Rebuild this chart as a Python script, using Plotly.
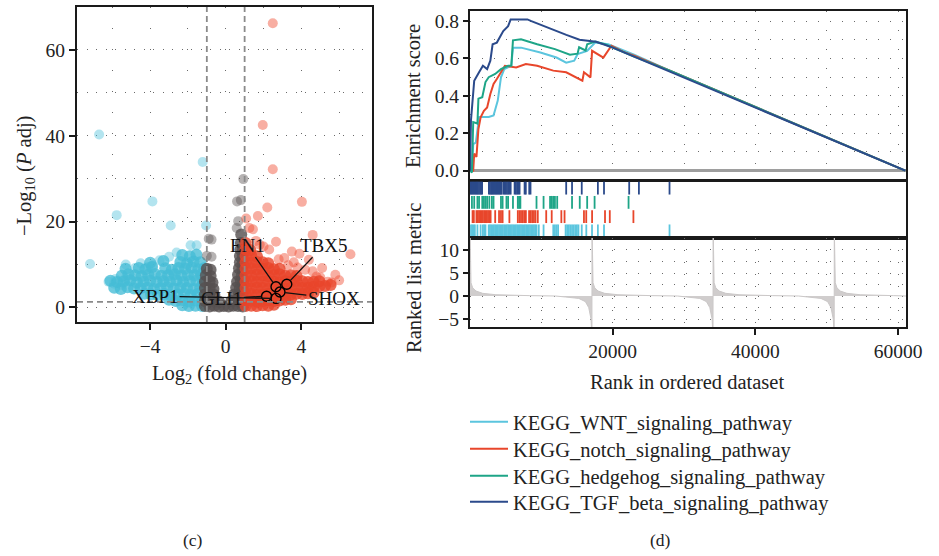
import plotly.graph_objects as go

# ---------------- Volcano data (log2FC, -log10 Padj) ----------------
down_cloud_x = [-2.3, -1.95, -1.6, -1.25,
                -3.0, -2.65, -2.3, -1.95, -1.6, -1.25,
                -4.3, -3.95, -3.6, -3.25, -2.9, -2.55, -2.2, -1.85, -1.5, -1.15,
                -5.9, -5.55, -5.2, -4.85, -4.5, -4.15, -3.8, -3.45, -3.1, -2.75, -2.4, -2.05, -1.7, -1.35,
                -6.1, -5.75, -5.4, -5.05, -4.7, -4.35, -4.0, -3.65, -3.3, -2.95, -2.6, -2.25, -1.9, -1.55, -1.2,
                -5.5, -5.15, -4.8, -4.45, -4.1, -3.75, -3.4, -3.05, -2.7, -2.35, -2.0, -1.65, -1.3,
                -5.3, -4.6, -4.25, -3.9, -3.2, -2.85, -2.5, -2.15, -1.8, -1.45, -1.15,
                -4.0, -3.3, -2.4, -2.05, -1.7, -1.35,
                -2.3, -1.9, -1.55]
down_cloud_y = [0.5, 0.3, 0.4, 0.3,
                1.8, 1.5, 1.7, 1.4, 1.6, 1.5,
                3.2, 3.0, 2.9, 3.1, 2.8, 3.0, 3.2, 2.9, 3.1, 3.0,
                4.6, 4.3, 4.7, 4.4, 4.5, 4.6, 4.3, 4.5, 4.7, 4.4, 4.6, 4.5, 4.3, 4.6,
                6.2, 5.9, 6.1, 6.3, 5.8, 6.0, 6.2, 5.9, 6.1, 6.0, 6.3, 5.9, 6.1, 6.2, 5.9,
                7.4, 7.7, 7.5, 7.3, 7.6, 7.8, 7.4, 7.5, 7.7, 7.4, 7.6, 7.5, 7.7,
                9.0, 9.2, 8.9, 9.4, 9.1, 8.8, 9.2, 9.0, 9.3, 8.9, 9.1,
                10.4, 10.8, 10.6, 10.3, 10.7, 10.5,
                12.2, 11.9, 12.3]
down_out_x = [-6.70, -1.22, -3.88, -5.77, -2.91, -1.04, -7.18, -1.86, -1.54, -3.00, -5.29, -5.83,
              -5.30, -4.10, -3.86, -5.50, -4.50, -2.60, -4.80, -3.50, -6.20, -5.90]
down_out_y = [40.3, 33.9, 24.7, 21.5, 19.1, 19.1, 10.1, 14.5, 14.5, 11.8, 10.0, 6.6,
              6.4, 9.4, 9.8, 5.2, 10.3, 12.8, 9.2, 11.0, 6.0, 5.5]

ns_cloud_x = [-1.1, -0.85, -0.6, -0.35, -0.1, 0.15, 0.4, 0.65, 0.9,
              -1.1, -0.85, -0.6, -0.35, 0.3, 0.55, 0.8,
              -1.1, -0.85, -0.6, 0.45, 0.7, 0.9,
              -1.1, -0.85, -0.65, 0.55, 0.75, 0.9,
              -1.1, -0.85, -0.7, 0.6, 0.8, 0.92,
              -1.05, -0.8, 0.65, 0.85,
              -1.0, -0.8, 0.7, 0.88,
              0.75, 0.9, 0.75, 0.9, 0.78, 0.9, 0.8, 0.82]
ns_cloud_y = [0.3, 0.2, 0.4, 0.2, 0.3, 0.2, 0.4, 0.3, 0.2,
              1.5, 1.6, 1.4, 1.3, 1.5, 1.6, 1.4,
              3.0, 3.1, 2.9, 3.0, 3.2, 2.9,
              4.5, 4.4, 4.3, 4.6, 4.5, 4.4,
              6.0, 6.1, 5.8, 6.0, 6.2, 5.9,
              7.5, 7.3, 7.6, 7.4,
              9.0, 8.8, 9.1, 9.0,
              10.5, 10.4, 12.0, 12.1, 13.5, 13.4, 15.0, 17.0]
ns_out_x = [0.93, 0.60, 0.80, 0.66, 0.58, -0.75, -0.90, -0.75, -1.00]
ns_out_y = [29.9, 24.7, 25.0, 20.1, 18.5, 15.8, 16.0, 11.8, 12.0]

up_cloud_x = [1.05, 1.35, 1.65, 1.95, 2.25, 2.55,
              1.05, 1.35, 1.65, 1.95, 2.25, 2.55, 2.85, 3.15, 3.45,
              1.05, 1.35, 1.65, 1.95, 2.25, 2.55, 2.85, 3.15, 3.45, 3.75, 4.05, 4.35, 4.65,
              1.05, 1.35, 1.65, 1.95, 2.25, 2.55, 2.85, 3.15, 3.45, 3.75, 4.05, 4.35, 4.65, 4.95, 5.25, 5.55,
              1.05, 1.35, 1.65, 1.95, 2.25, 2.55, 2.85, 3.15, 3.45, 3.75, 4.05, 4.35, 4.65, 4.95,
              1.05, 1.35, 1.65, 1.95, 2.25, 2.55, 2.85, 3.15, 3.45, 3.75,
              1.05, 1.35, 1.65, 1.95, 2.25, 2.55, 2.85,
              1.05, 1.35, 1.65, 1.95, 2.25,
              1.05, 1.35, 1.65,
              1.05, 1.30, 1.05]
up_cloud_y = [0.3, 0.4, 0.3, 0.5, 0.4, 0.6,
              1.5, 1.6, 1.4, 1.5, 1.7, 1.5, 1.6, 1.8, 1.9,
              3.0, 3.1, 2.9, 3.0, 3.2, 3.0, 2.9, 3.1, 3.0, 3.2, 3.1, 3.3, 3.4,
              4.5, 4.4, 4.6, 4.5, 4.3, 4.5, 4.6, 4.4, 4.5, 4.7, 4.5, 4.6, 4.8, 4.9, 5.0, 5.2,
              6.0, 6.1, 5.9, 6.0, 6.2, 6.0, 5.8, 6.1, 6.0, 6.2, 6.1, 5.9, 6.0, 6.1,
              7.5, 7.4, 7.6, 7.5, 7.3, 7.5, 7.7, 7.4, 7.5, 7.3,
              9.0, 9.1, 8.9, 9.0, 9.2, 8.9, 9.0,
              10.5, 10.4, 10.6, 10.5, 10.3,
              12.0, 12.1, 11.9,
              13.5, 13.4, 15.0]
up_out_x = [2.49, 1.96, 2.49, 4.03, 2.20, 1.70, 1.08, 1.44, 2.66, 4.60, 6.60, 4.40, 4.60, 5.80, 3.90,
            1.80, 1.25, 3.50, 3.10, 2.30, 5.10, 6.00, 3.60, 2.00, 5.40, 5.00,
            3.30, 4.20, 5.60, 4.80, 3.80, 2.80, 1.60]
up_out_y = [66.2, 42.5, 32.2, 24.6, 23.3, 21.3, 20.7, 18.2, 15.3, 16.9, 12.4, 11.1, 8.4, 7.6, 12.5,
            14.6, 18.5, 13.0, 11.5, 13.5, 9.2, 6.3, 10.5, 14.2, 6.0, 7.0,
            9.8, 8.8, 5.8, 7.2, 9.3, 11.2, 15.5]

genes = ["EN1", "TBX5", "SHOX", "GLI1", "XBP1"]
gene_x = [2.66, 3.23, 2.87, 2.16, 2.66]
gene_y = [4.8, 5.4, 3.6, 2.6, 2.1]
label_x = [1.13, 5.20, 5.72, -0.21, -3.74]
label_y = [14.5, 14.5, 2.1, 2.1, 2.6]
fc_cut = [-1, 1]
p_cut = 1.3

# ---------------- GSEA data ----------------
pathways = ["KEGG_WNT_signaling_pathway", "KEGG_notch_signaling_pathway",
            "KEGG_hedgehog_signaling_pathway", "KEGG_TGF_beta_signaling_pathway"]
colors = ["#5bc5de", "#e8462b", "#1ea587", "#2b4a8b"]

wnt_rank = [0, 270, 450, 815, 1270, 2620, 3300, 3530, 3890, 4340, 4800, 5790, 6020, 7150, 9860, 12120,
            13480, 14610, 15070, 16420, 17550, 19360, 21000, 23000, 28000, 61000]
wnt_es = [0, 0.0, 0.142, 0.15, 0.287, 0.287, 0.295, 0.331, 0.375, 0.499, 0.543, 0.561, 0.658, 0.658, 0.632,
          0.605, 0.578, 0.588, 0.623, 0.641, 0.685, 0.676, 0.650, 0.620, 0.535, 0.0]
notch_rank = [0, 450, 590, 905, 1180, 1490, 1950, 2400, 2850, 3300, 3760, 4340, 4890, 6470, 7830, 9410,
              11670, 13480, 15750, 15970, 16880, 17110, 18690, 19820, 21500, 23000, 28000, 61000]
notch_es = [0, 0.0, 0.092, 0.074, 0.223, 0.285, 0.32, 0.338, 0.41, 0.464, 0.49, 0.526, 0.561, 0.552, 0.57,
            0.561, 0.535, 0.526, 0.481, 0.526, 0.499, 0.641, 0.605, 0.668, 0.635, 0.615, 0.535, 0.0]
hh_rank = [0, 270, 450, 1040, 1180, 1720, 2170, 2620, 3530, 4340, 5340, 5790, 6020, 7150, 9410, 11900,
           14000, 15070, 15290, 16200, 16420, 17550, 18900, 20000, 23000, 28000, 61000]
hh_es = [0, -0.01, 0.26, 0.252, 0.385, 0.393, 0.474, 0.5, 0.517, 0.543, 0.561, 0.561, 0.697, 0.703, 0.676,
         0.65, 0.62, 0.626, 0.66, 0.643, 0.676, 0.69, 0.676, 0.658, 0.61, 0.535, 0.0]
tgf_rank = [0, 135, 590, 905, 1270, 1810, 2400, 2850, 3170, 3760, 4210, 4660, 5340, 5700, 8050, 8600,
            13500, 15350, 17670, 20000, 24000, 28000, 61000]
tgf_es = [0, 0.269, 0.481, 0.499, 0.526, 0.561, 0.543, 0.588, 0.676, 0.685, 0.72, 0.747, 0.773, 0.809,
          0.809, 0.80, 0.726, 0.70, 0.689, 0.658, 0.594, 0.53, 0.0]

tgf_hits = [30, 180, 330, 480, 640, 800, 950, 1100, 1260, 1420, 1580, 1700,
            2650, 2800, 2960, 3100, 3250, 3400, 3560, 3700, 3850, 4000, 4150, 4300, 4420,
            4680, 4850, 5000, 5180, 5350, 5520, 5700, 6250, 6420, 6600, 6780, 6950,
            7650, 7820, 8300, 8480, 13480, 14300, 15660, 17920, 18780, 22310, 23670, 27960]
hh_hits = [270, 590, 1040, 1270, 1720, 1950, 2170, 2400, 2710, 3070, 3300, 4340, 4570, 5110, 5340,
           6020, 6700, 6880, 7060, 9320, 10310, 11220, 11450, 11670, 11900, 12220, 14300, 15380,
           16420, 17460, 22220]
notch_hits = [360, 540, 900, 1090, 1270, 1450, 1630, 1810, 2000, 2170, 2350, 2530, 2710, 2890, 3530,
              4070, 4340, 4570, 5520, 6700, 6930, 7150, 7380, 7600, 7830, 8280, 8510, 8730, 8960,
              9180, 9500, 10680, 11450, 12800, 13250, 15970, 16290, 17110, 18920, 19590, 22900]
wnt_hits = [140, 320, 500, 680, 1040, 1490, 1810, 2000, 2170, 2620, 2800, 2980, 3170, 3350, 3530, 3710,
            3890, 4070, 4250, 4430, 4610, 4800, 4980, 5160, 5340, 5520, 5700, 5880, 6060, 6240, 6420,
            6600, 6790, 6970, 7150, 7330, 7510, 7690, 7870, 8050, 8230, 8410, 8600, 8780, 8960, 9140,
            9320, 9640, 10310, 11670, 11900, 12130, 12350, 13400, 13620, 13850, 14070, 14300, 14520,
            14750, 14980, 15200, 15660, 16300, 17100, 17920, 18780, 27960]

# ranked list metric: repeating sorted blocks
segment_starts = [0, 17100, 34070, 51050]
rank_end = 61100
head_offsets = [0, 60, 140, 370, 840, 1770, 3630, 8300, 12000]
head_values = [15, 6, 2.9, 1.8, 1.1, 0.6, 0.3, 0.1, 0.02]
tail_before_end = [3700, 1860, 930, 460, 140, 15]
tail_values = [-0.2, -0.5, -1.2, -2.5, -5, -9]

FONT = "Liberation Serif"
fig = go.Figure()

# ---------- volcano ----------
def pts(x, y, col, op, size=10):
    fig.add_trace(go.Scatter(x=x, y=y, mode="markers", xaxis="x", yaxis="y", showlegend=False,
                             hoverinfo="skip",
                             marker=dict(size=size, color=col, opacity=op, line=dict(width=0))))

pts(down_out_x, down_out_y, "#4bbfd9", 0.42)
pts(down_cloud_x, down_cloud_y, "#45bcd6", 0.78, 12)
pts(ns_out_x, ns_out_y, "#5d5757", 0.45)
pts(ns_cloud_x, ns_cloud_y, "#575151", 0.82, 12)
pts(up_out_x, up_out_y, "#ef4b31", 0.45)
pts(up_cloud_x, up_cloud_y, "#e8452b", 0.8, 12)
fig.add_trace(go.Scatter(x=gene_x, y=gene_y, mode="markers", xaxis="x", yaxis="y", showlegend=False,
                         marker=dict(size=10, symbol="circle-open", color="black", line=dict(width=1.4))))

# ---------- GSEA running ES ----------
legend_ids = ["legend", "legend2", "legend3", "legend4"]
es_data = [(wnt_rank, wnt_es), (notch_rank, notch_es), (hh_rank, hh_es), (tgf_rank, tgf_es)]
for name, col, lid, (rx, ry) in zip(pathways, colors, legend_ids, es_data):
    fig.add_trace(go.Scatter(x=rx, y=ry, mode="lines", name=name, xaxis="x2", yaxis="y2",
                             line=dict(color=col, width=2), legend=lid))

# ---------- barcode ----------
hit_sets = [(wnt_hits, 0), (notch_hits, 1), (hh_hits, 2), (tgf_hits, 3)]
for (hits, row), col in zip(hit_sets, colors):
    bx, by = [], []
    for h in hits:
        bx += [h, h, None]
        by += [row + 0.05, row + 0.95, None]
    fig.add_trace(go.Scatter(x=bx, y=by, mode="lines", xaxis="x3", yaxis="y3", showlegend=False,
                             line=dict(color=col, width=1.8)))

# ---------- ranked list metric ----------
mx, my = [], []
for i, s in enumerate(segment_starts):
    e = segment_starts[i + 1] if i + 1 < len(segment_starts) else rank_end
    for o, v in zip(head_offsets, head_values):
        if s + o < e:
            mx.append(s + o); my.append(v)
    if i + 1 < len(segment_starts):
        for b, v in zip(tail_before_end, tail_values):
            mx.append(e - b); my.append(v)
    else:
        mx.append(e); my.append(0.02)
fig.add_trace(go.Scatter(x=mx, y=my, mode="lines", fill="tozeroy", xaxis="x4", yaxis="y4",
                         showlegend=False, line=dict(color="#cbc8c8", width=1), fillcolor="#d0cdcd"))

# ---------- layout ----------
W, H = 939, 556
def px_x(a, b):
    return [a / W, b / W]
def px_y(top, bottom):
    return [1 - bottom / H, 1 - top / H]

GRID = "#6a6a6a"
tickfont = dict(family=FONT, size=19.5, color="#222")
axline = dict(showline=True, linecolor="#1a1a1a", linewidth=2, mirror=True, zeroline=False)

gx = px_x(470, 906)
rng = [0, 61100]

legend_rows = [402, 429, 456, 482]
legends = {}
for lid, top in zip(legend_ids, legend_rows):
    legends[lid] = dict(x=465 / W, y=1 - top / H, xanchor="left", yanchor="top", bgcolor="rgba(0,0,0,0)",
                        font=dict(family=FONT, size=20.5, color="#222"), itemwidth=38)

fig.update_layout(
    width=W, height=H, margin=dict(l=0, r=0, t=0, b=0, autoexpand=False), autosize=False,
    paper_bgcolor="white", plot_bgcolor="white",
    font=dict(family=FONT, size=19, color="#222"),
    xaxis=dict(domain=px_x(77, 372), range=[-7.87, 7.74], tick0=0, dtick=4, ticks="outside", ticklen=6,
               tickwidth=1.5, tickcolor="#1a1a1a", tickfont=tickfont, showgrid=True, gridcolor=GRID,
               gridwidth=1, griddash="1px,20px",
               minor=dict(dtick=2, tick0=0, showgrid=True, gridcolor=GRID, griddash="1px,20px", gridwidth=1),
               **axline),
    yaxis=dict(domain=px_y(7, 322), range=[-3.4, 70], tick0=0, dtick=20, ticks="outside", ticklen=6,
               tickwidth=1.5, tickcolor="#1a1a1a", tickfont=tickfont, showgrid=True, gridcolor=GRID,
               gridwidth=1, griddash="1px,8.5px",
               minor=dict(dtick=10, tick0=0, showgrid=True, gridcolor=GRID, griddash="1px,8.5px", gridwidth=1),
               **axline),
    xaxis2=dict(domain=gx, range=rng, anchor="y2", showticklabels=False, ticks="", dtick=10000, tick0=0,
                showgrid=True, gridcolor=GRID, gridwidth=1, griddash="1px,18px", **axline),
    yaxis2=dict(domain=px_y(11, 180), range=[-0.05, 0.854], anchor="x2", tick0=0, dtick=0.2,
                tickformat=".1f", ticks="outside", ticklen=5, tickwidth=1.5, tickcolor="#1a1a1a",
                tickfont=tickfont, showgrid=True, gridcolor=GRID, gridwidth=1, griddash="1px,11px",
                minor=dict(dtick=0.1, tick0=0, showgrid=True, gridcolor=GRID, griddash="1px,11px", gridwidth=1),
                showline=True, linecolor="#1a1a1a", linewidth=2, mirror=True,
                zeroline=True, zerolinecolor="#9e9e9e", zerolinewidth=2.5),
    xaxis3=dict(domain=gx, range=rng, anchor="y3", showticklabels=False, ticks="", showgrid=False, **axline),
    yaxis3=dict(domain=px_y(181, 238), range=[0, 4], anchor="x3", showticklabels=False, ticks="",
                showgrid=False, **axline),
    xaxis4=dict(domain=gx, range=rng, anchor="y4", tickmode="array", tickvals=[20000, 40000, 60000],
                tickformat="d", ticks="outside", ticklen=6, tickwidth=1.5, tickcolor="#1a1a1a",
                tickfont=tickfont, showgrid=True, gridcolor=GRID, gridwidth=1, griddash="1px,11px",
                minor=dict(tickmode="linear", dtick=10000, tick0=0, showgrid=True, gridcolor=GRID,
                           griddash="1px,11px", gridwidth=1),
                **axline),
    yaxis4=dict(domain=px_y(238, 327), range=[-6.7, 12.6], anchor="x4", tickmode="array",
                tickvals=[-5, 0, 5, 10], ticks="outside", ticklen=5, tickwidth=1.5, tickcolor="#1a1a1a",
                tickfont=tickfont, showgrid=True, gridcolor=GRID, gridwidth=1, griddash="1px,11px",
                minor=dict(tickmode="linear", dtick=2.5, tick0=0, showgrid=True, gridcolor=GRID,
                           griddash="1px,11px", gridwidth=1),
                **axline),
    showlegend=True,
    **legends,
)

# threshold lines
for c in fc_cut:
    fig.add_shape(type="line", xref="x", yref="y domain", x0=c, x1=c, y0=0, y1=1,
                  line=dict(color="#8a8a8a", width=1.8, dash="6px,4px"))
fig.add_shape(type="line", xref="x domain", yref="y", x0=0, x1=1, y0=p_cut, y1=p_cut,
              line=dict(color="#8a8a8a", width=1.8, dash="6px,4px"))

ann = []
for g, gx_, gy_, lx, ly in zip(genes, gene_x, gene_y, label_x, label_y):
    ann.append(dict(x=gx_, y=gy_, xref="x", yref="y", ax=lx, ay=ly, axref="x", ayref="y", text=g,
                    showarrow=True, arrowhead=0, arrowwidth=1.3, arrowcolor="#111", standoff=5,
                    font=dict(family=FONT, size=19, color="#111")))

def label(x, y, text, size=20.5, angle=0):
    ann.append(dict(x=x / W, y=1 - y / H, xref="paper", yref="paper", text=text, textangle=angle,
                    xanchor="center", yanchor="middle", showarrow=False,
                    font=dict(family=FONT, size=size, color="#222")))

label(25, 176, "−Log<sub>10</sub> (<i>P</i> adj)", angle=-90)
label(229, 374, "Log<sub>2</sub> (fold change)")
label(413, 96, "Enrichment score", angle=-90)
label(414, 278, "Ranked list metric", angle=-90)
label(687, 382, "Rank in ordered dataset")
label(193, 540, "(c)", size=17.5)
label(660, 540, "(d)", size=17.5)
fig.update_layout(annotations=ann)

fig.write_html("out.html", config={"responsive": False},
               post_script="document.documentElement.style.overflow='hidden';"
                           "document.body.style.margin='0';document.body.style.overflow='hidden';")
